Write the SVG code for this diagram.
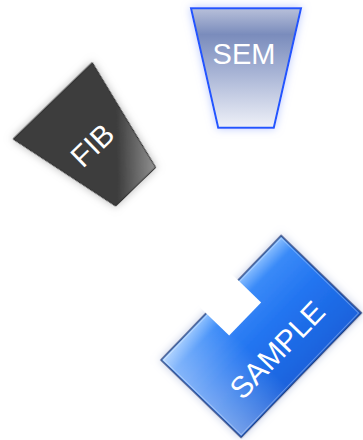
<svg xmlns="http://www.w3.org/2000/svg" width="363" height="440" viewBox="0 0 363 440">
<style>
.lbl{font-family:"Liberation Sans",Arial,sans-serif;fill:#ffffff;text-anchor:middle}
</style>
<defs>
<filter id="glowBlue" x="-30%" y="-30%" width="160%" height="160%">
<feGaussianBlur in="SourceAlpha" stdDeviation="4" result="b"/>
<feFlood flood-color="#aabcff" flood-opacity="0.8"/>
<feComposite in2="b" operator="in" result="g"/>
<feMerge><feMergeNode in="g"/><feMergeNode in="SourceGraphic"/></feMerge>
</filter>
<filter id="glowGrey" x="-30%" y="-30%" width="160%" height="160%">
<feGaussianBlur in="SourceAlpha" stdDeviation="4" result="b"/>
<feFlood flood-color="#9a9a9a" flood-opacity="0.7"/>
<feComposite in2="b" operator="in" result="g"/>
<feMerge><feMergeNode in="g"/><feMergeNode in="SourceGraphic"/></feMerge>
</filter>
<filter id="glowSample" x="-30%" y="-30%" width="160%" height="160%">
<feGaussianBlur in="SourceAlpha" stdDeviation="4" result="b"/>
<feFlood flood-color="#b4bfe0" flood-opacity="0.8"/>
<feComposite in2="b" operator="in" result="g"/>
<feMerge><feMergeNode in="g"/><feMergeNode in="SourceGraphic"/></feMerge>
</filter>
<linearGradient id="gSem" x1="0" y1="0" x2="0" y2="119.4" gradientUnits="userSpaceOnUse">
<stop offset="0" stop-color="#b8c0da"/>
<stop offset="0.22" stop-color="#7a8cbc"/>
<stop offset="0.55" stop-color="#a9b5d6"/>
<stop offset="1" stop-color="#eff1f8"/>
</linearGradient>
<linearGradient id="gFib" x1="0" y1="92" x2="32" y2="122" gradientUnits="userSpaceOnUse">
<stop offset="0" stop-color="#3c3c3c"/>
<stop offset="1" stop-color="#9c9c9c"/>
</linearGradient>
<linearGradient id="gSample" x1="0" y1="0" x2="0" y2="111.5" gradientUnits="userSpaceOnUse">
<stop offset="0" stop-color="#8cc0ff"/>
<stop offset="0.15" stop-color="#3a8af8"/>
<stop offset="0.5" stop-color="#2274f0"/>
<stop offset="1" stop-color="#1a62dc"/>
</linearGradient>
<linearGradient id="gSampleX" x1="0" y1="0" x2="173" y2="0" gradientUnits="userSpaceOnUse">
<stop offset="0" stop-color="#ffffff" stop-opacity="0.4"/>
<stop offset="0.4" stop-color="#ffffff" stop-opacity="0"/>
</linearGradient>
</defs>
<g id="connectors"/>
<g id="sem" transform="translate(246,8.3)">
<path d="M-55,0 L55,0 L27.8,119.4 L-27.8,119.4 Z" fill="url(#gSem)" stroke="#2255ff" stroke-width="2" filter="url(#glowBlue)"/>
<text class="lbl" x="-2" y="56" font-size="29">SEM</text>
</g>
<g id="fib" transform="translate(52.7,100.8) rotate(-44)">
<path d="M-55,0 L55,0 L27.8,119.4 L-27.8,119.4 Z" fill="url(#gFib)" stroke="#2a2a2a" stroke-width="1" filter="url(#glowGrey)"/>
<text class="lbl" x="-2.5" y="70" font-size="30">FIB</text>
</g>
<g id="sample" transform="translate(161,360) rotate(-46)">
<g filter="url(#glowSample)">
<rect x="0" y="0" width="173" height="111.5" fill="url(#gSample)" stroke="#1e3f80" stroke-width="1.5"/>
</g>
<rect x="1" y="1" width="171" height="109.5" fill="url(#gSampleX)"/>
<rect x="2" y="2" width="169" height="107.5" fill="none" stroke="#ffffff" stroke-opacity="0.3" stroke-width="1"/>
<rect x="65" y="-16" width="46" height="48" fill="#ffffff"/>
<text class="lbl" x="88" y="87" font-size="30">SAMPLE</text>
</g>
</svg>
